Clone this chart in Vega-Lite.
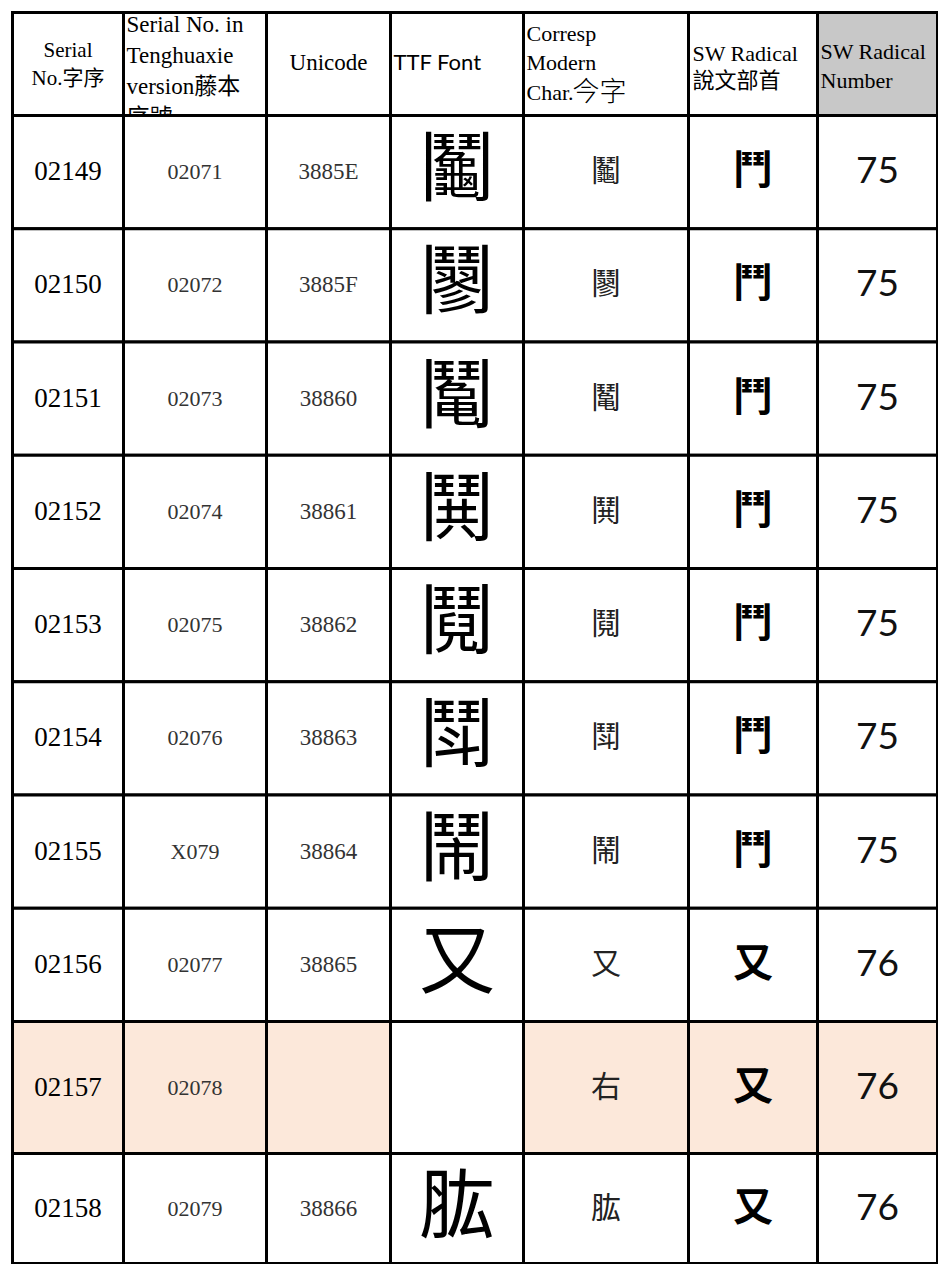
{
"$schema": "https://vega.github.io/schema/vega-lite/v6.json",
"background": "#ffffff",
"padding": {"left": 10.5, "top": 10.5, "right": 0, "bottom": 0},
"config": {"view": {"stroke": null}},
"datasets": {
 "rows": [
  {"serial":"02149","teng":"02071","unicode":"3885E","modern":"鬮","radical":"鬥","number":"75"},
  {"serial":"02150","teng":"02072","unicode":"3885F","modern":"\u4c18","radical":"鬥","number":"75"},
  {"serial":"02151","teng":"02073","unicode":"38860","modern":"\u4c17","radical":"鬥","number":"75"},
  {"serial":"02152","teng":"02074","unicode":"38861","modern":"\u9b28","radical":"鬥","number":"75"},
  {"serial":"02153","teng":"02075","unicode":"38862","modern":"鬩","radical":"鬥","number":"75"},
  {"serial":"02154","teng":"02076","unicode":"38863","modern":"\u9b26","radical":"鬥","number":"75"},
  {"serial":"02155","teng":"X079","unicode":"38864","modern":"鬧","radical":"鬥","number":"75"},
  {"serial":"02156","teng":"02077","unicode":"38865","modern":"又","radical":"又","number":"76"},
  {"serial":"02157","teng":"02078","unicode":"","modern":"右","radical":"又","number":"76"},
  {"serial":"02158","teng":"02079","unicode":"38866","modern":"肱","radical":"又","number":"76"}
 ],
 "header": [
  {"col":"serial","label":"Serial\nNo.字序"},
  {"col":"teng","label":"Serial No. in\nTenghuaxie\nversion藤本\n序號"},
  {"col":"unicode","label":"Unicode"},
  {"col":"ttf","label":"TTF Font"},
  {"col":"modern","label":"Corresp\nModern\nChar.","label2":"今字"},
  {"col":"radical","label":"SW Radical\n說文部首"},
  {"col":"number","label":"SW Radical\nNumber"}
 ]
},
"columns": 7,
"spacing": 0,
"bounds": "flush",
"concat": [
  {"width":111,"height":103,"data":{"name":"header"},"transform":[{"filter":"datum.col == 'serial'"}],"layer":[
   {"mark":{"type":"rect","fill":"#ffffff","stroke":"#000000","strokeWidth":3},"encoding":{"x":{"field":"col","type":"nominal","axis":null,"scale":{"type":"band","paddingInner":0,"paddingOuter":0}}}},
   {"mark":{"type":"text","font":"Liberation Serif, Noto Sans CJK TC","fontSize":21,"lineBreak":"\n","lineHeight":28,"dy":-13.5,"align":"center","baseline":"middle","color":"#000000"},"encoding":{"text":{"field":"label","type":"nominal"}}}
  ]},
  {"width":143,"height":103,"data":{"name":"header"},"transform":[{"filter":"datum.col == 'teng'"}],"layer":[
   {"mark":{"type":"rect","fill":"#ffffff","stroke":"#000000","strokeWidth":3},"encoding":{"x":{"field":"col","type":"nominal","axis":null,"scale":{"type":"band","paddingInner":0,"paddingOuter":0}}}},
   {"mark":{"type":"text","clip":true,"font":"Liberation Serif, Noto Sans CJK TC","fontSize":23,"lineBreak":"\n","lineHeight":31,"dx":3,"dy":-39.5,"align":"left","baseline":"middle","color":"#000000"},"encoding":{"x":{"field":"col","type":"nominal","axis":null,"bandPosition":0,"scale":{"type":"band","paddingInner":0,"paddingOuter":0}},"text":{"field":"label","type":"nominal"}}}
  ]},
  {"width":124,"height":103,"data":{"name":"header"},"transform":[{"filter":"datum.col == 'unicode'"}],"layer":[
   {"mark":{"type":"rect","fill":"#ffffff","stroke":"#000000","strokeWidth":3},"encoding":{"x":{"field":"col","type":"nominal","axis":null,"scale":{"type":"band","paddingInner":0,"paddingOuter":0}}}},
   {"mark":{"type":"text","font":"Liberation Serif","fontSize":23,"dy":-1.5,"align":"center","baseline":"middle","color":"#000000"},"encoding":{"text":{"field":"label","type":"nominal"}}}
  ]},
  {"width":133,"height":103,"data":{"name":"header"},"transform":[{"filter":"datum.col == 'ttf'"}],"layer":[
   {"mark":{"type":"rect","fill":"#ffffff","stroke":"#000000","strokeWidth":3},"encoding":{"x":{"field":"col","type":"nominal","axis":null,"scale":{"type":"band","paddingInner":0,"paddingOuter":0}}}},
   {"mark":{"type":"text","font":"Lato","fontSize":22,"dx":3,"dy":-1.5,"align":"left","baseline":"middle","color":"#000000"},"encoding":{"x":{"field":"col","type":"nominal","axis":null,"bandPosition":0,"scale":{"type":"band","paddingInner":0,"paddingOuter":0}},"text":{"field":"label","type":"nominal"}}}
  ]},
  {"width":165,"height":103,"data":{"name":"header"},"transform":[{"filter":"datum.col == 'modern'"}],"layer":[
   {"mark":{"type":"rect","fill":"#ffffff","stroke":"#000000","strokeWidth":3},"encoding":{"x":{"field":"col","type":"nominal","axis":null,"scale":{"type":"band","paddingInner":0,"paddingOuter":0}}}},
   {"mark":{"type":"text","font":"Liberation Serif","fontSize":22,"lineBreak":"\n","lineHeight":29.5,"dx":3,"dy":-30.5,"align":"left","baseline":"middle","color":"#000000"},"encoding":{"x":{"field":"col","type":"nominal","axis":null,"bandPosition":0,"scale":{"type":"band","paddingInner":0,"paddingOuter":0}},"text":{"field":"label","type":"nominal"}}},
   {"mark":{"type":"text","font":"Noto Sans CJK TC","fontWeight":300,"fontSize":27,"dx":49,"dy":28.5,"align":"left","baseline":"middle","color":"#000000"},"encoding":{"x":{"field":"col","type":"nominal","axis":null,"bandPosition":0,"scale":{"type":"band","paddingInner":0,"paddingOuter":0}},"text":{"field":"label2","type":"nominal"}}}
  ]},
  {"width":129,"height":103,"data":{"name":"header"},"transform":[{"filter":"datum.col == 'radical'"}],"layer":[
   {"mark":{"type":"rect","fill":"#ffffff","stroke":"#000000","strokeWidth":3},"encoding":{"x":{"field":"col","type":"nominal","axis":null,"scale":{"type":"band","paddingInner":0,"paddingOuter":0}}}},
   {"mark":{"type":"text","font":"Liberation Serif, Noto Sans CJK TC","fontSize":22,"lineBreak":"\n","lineHeight":27,"dx":4,"dy":-10.5,"align":"left","baseline":"middle","color":"#000000"},"encoding":{"x":{"field":"col","type":"nominal","axis":null,"bandPosition":0,"scale":{"type":"band","paddingInner":0,"paddingOuter":0}},"text":{"field":"label","type":"nominal"}}}
  ]},
  {"width":120,"height":103,"data":{"name":"header"},"transform":[{"filter":"datum.col == 'number'"}],"layer":[
   {"mark":{"type":"rect","fill":"#c8c8c8","stroke":"#000000","strokeWidth":3},"encoding":{"x":{"field":"col","type":"nominal","axis":null,"scale":{"type":"band","paddingInner":0,"paddingOuter":0}}}},
   {"mark":{"type":"text","font":"Liberation Serif","fontSize":22,"lineBreak":"\n","lineHeight":29,"dx":3,"dy":-12.5,"align":"left","baseline":"middle","color":"#000000"},"encoding":{"x":{"field":"col","type":"nominal","axis":null,"bandPosition":0,"scale":{"type":"band","paddingInner":0,"paddingOuter":0}},"text":{"field":"label","type":"nominal"}}}
  ]},

  {"width":111,"height":906,"data":{"name":"rows"},"transform":[{"filter":"datum.serial < '02157'"}],"layer":[
   {"mark":{"type":"rect","fill":"#ffffff","stroke":"#000000","strokeWidth":3},"encoding":{"y":{"field":"serial","type":"nominal","axis":null,"sort":null,"scale":{"type":"band","paddingInner":0,"paddingOuter":0}}}},
   {"mark":{"type":"text","font":"Liberation Serif","fontSize":27,"color":"#000000"},"encoding":{"y":{"field":"serial","type":"nominal","axis":null,"sort":null,"scale":{"type":"band","paddingInner":0,"paddingOuter":0}},"text":{"field":"serial","type":"nominal"}}}
  ]},
  {"width":143,"height":906,"data":{"name":"rows"},"transform":[{"filter":"datum.serial < '02157'"}],"layer":[
   {"mark":{"type":"rect","fill":"#ffffff","stroke":"#000000","strokeWidth":3},"encoding":{"y":{"field":"serial","type":"nominal","axis":null,"sort":null,"scale":{"type":"band","paddingInner":0,"paddingOuter":0}}}},
   {"mark":{"type":"text","font":"Liberation Serif","fontSize":22,"color":"#333333"},"encoding":{"y":{"field":"serial","type":"nominal","axis":null,"sort":null,"scale":{"type":"band","paddingInner":0,"paddingOuter":0}},"text":{"field":"teng","type":"nominal"}}}
  ]},
  {"width":124,"height":906,"data":{"name":"rows"},"transform":[{"filter":"datum.serial < '02157'"}],"layer":[
   {"mark":{"type":"rect","fill":"#ffffff","stroke":"#000000","strokeWidth":3},"encoding":{"y":{"field":"serial","type":"nominal","axis":null,"sort":null,"scale":{"type":"band","paddingInner":0,"paddingOuter":0}}}},
   {"mark":{"type":"text","font":"Liberation Serif","fontSize":23,"color":"#333333"},"encoding":{"y":{"field":"serial","type":"nominal","axis":null,"sort":null,"scale":{"type":"band","paddingInner":0,"paddingOuter":0}},"text":{"field":"unicode","type":"nominal"}}}
  ]},
  {"width":133,"height":906,"data":{"name":"rows"},"transform":[{"filter":"datum.serial < '02157'"}],"layer":[
   {"mark":{"type":"rect","fill":"#ffffff","stroke":"#000000","strokeWidth":3},"encoding":{"y":{"field":"serial","type":"nominal","axis":null,"sort":null,"scale":{"type":"band","paddingInner":0,"paddingOuter":0}}}},
   {"transform":[{"filter":"datum.unicode != ''"}],"mark":{"type":"text","font":"Noto Sans CJK TC","fontSize":76,"color":"#000000"},"encoding":{"y":{"field":"serial","type":"nominal","axis":null,"sort":null,"scale":{"type":"band","paddingInner":0,"paddingOuter":0}},"text":{"field":"modern","type":"nominal"}}}
  ]},
  {"width":165,"height":906,"data":{"name":"rows"},"transform":[{"filter":"datum.serial < '02157'"}],"layer":[
   {"mark":{"type":"rect","fill":"#ffffff","stroke":"#000000","strokeWidth":3},"encoding":{"y":{"field":"serial","type":"nominal","axis":null,"sort":null,"scale":{"type":"band","paddingInner":0,"paddingOuter":0}}}},
   {"mark":{"type":"text","font":"Noto Sans CJK TC","fontSize":30,"color":"#222222"},"encoding":{"y":{"field":"serial","type":"nominal","axis":null,"sort":null,"scale":{"type":"band","paddingInner":0,"paddingOuter":0}},"text":{"field":"modern","type":"nominal"}}}
  ]},
  {"width":129,"height":906,"data":{"name":"rows"},"transform":[{"filter":"datum.serial < '02157'"}],"layer":[
   {"mark":{"type":"rect","fill":"#ffffff","stroke":"#000000","strokeWidth":3},"encoding":{"y":{"field":"serial","type":"nominal","axis":null,"sort":null,"scale":{"type":"band","paddingInner":0,"paddingOuter":0}}}},
   {"mark":{"type":"text","font":"Noto Sans CJK TC","fontSize":40,"fontWeight":"bold","color":"#000000"},"encoding":{"y":{"field":"serial","type":"nominal","axis":null,"sort":null,"scale":{"type":"band","paddingInner":0,"paddingOuter":0}},"text":{"field":"radical","type":"nominal"}}}
  ]},
  {"width":120,"height":906,"data":{"name":"rows"},"transform":[{"filter":"datum.serial < '02157'"}],"layer":[
   {"mark":{"type":"rect","fill":"#ffffff","stroke":"#000000","strokeWidth":3},"encoding":{"y":{"field":"serial","type":"nominal","axis":null,"sort":null,"scale":{"type":"band","paddingInner":0,"paddingOuter":0}}}},
   {"mark":{"type":"text","font":"Lato","fontSize":37,"color":"#111111"},"encoding":{"y":{"field":"serial","type":"nominal","axis":null,"sort":null,"scale":{"type":"band","paddingInner":0,"paddingOuter":0}},"text":{"field":"number","type":"nominal"}}}
  ]},

  {"width":111,"height":132,"data":{"name":"rows"},"transform":[{"filter":"datum.serial == '02157'"}],"layer":[
   {"mark":{"type":"rect","fill":"#fce8da","stroke":"#000000","strokeWidth":3},"encoding":{"y":{"field":"serial","type":"nominal","axis":null,"sort":null,"scale":{"type":"band","paddingInner":0,"paddingOuter":0}}}},
   {"mark":{"type":"text","font":"Liberation Serif","fontSize":27,"color":"#000000"},"encoding":{"y":{"field":"serial","type":"nominal","axis":null,"sort":null,"scale":{"type":"band","paddingInner":0,"paddingOuter":0}},"text":{"field":"serial","type":"nominal"}}}
  ]},
  {"width":143,"height":132,"data":{"name":"rows"},"transform":[{"filter":"datum.serial == '02157'"}],"layer":[
   {"mark":{"type":"rect","fill":"#fce8da","stroke":"#000000","strokeWidth":3},"encoding":{"y":{"field":"serial","type":"nominal","axis":null,"sort":null,"scale":{"type":"band","paddingInner":0,"paddingOuter":0}}}},
   {"mark":{"type":"text","font":"Liberation Serif","fontSize":22,"color":"#333333"},"encoding":{"y":{"field":"serial","type":"nominal","axis":null,"sort":null,"scale":{"type":"band","paddingInner":0,"paddingOuter":0}},"text":{"field":"teng","type":"nominal"}}}
  ]},
  {"width":124,"height":132,"data":{"name":"rows"},"transform":[{"filter":"datum.serial == '02157'"}],"layer":[
   {"mark":{"type":"rect","fill":"#fce8da","stroke":"#000000","strokeWidth":3},"encoding":{"y":{"field":"serial","type":"nominal","axis":null,"sort":null,"scale":{"type":"band","paddingInner":0,"paddingOuter":0}}}},
   {"mark":{"type":"text","font":"Liberation Serif","fontSize":23,"color":"#333333"},"encoding":{"y":{"field":"serial","type":"nominal","axis":null,"sort":null,"scale":{"type":"band","paddingInner":0,"paddingOuter":0}},"text":{"field":"unicode","type":"nominal"}}}
  ]},
  {"width":133,"height":132,"data":{"name":"rows"},"transform":[{"filter":"datum.serial == '02157'"}],"layer":[
   {"mark":{"type":"rect","fill":"#ffffff","stroke":"#000000","strokeWidth":3},"encoding":{"y":{"field":"serial","type":"nominal","axis":null,"sort":null,"scale":{"type":"band","paddingInner":0,"paddingOuter":0}}}},
   {"transform":[{"filter":"datum.unicode != ''"}],"mark":{"type":"text","font":"Noto Sans CJK TC","fontSize":76,"color":"#000000"},"encoding":{"y":{"field":"serial","type":"nominal","axis":null,"sort":null,"scale":{"type":"band","paddingInner":0,"paddingOuter":0}},"text":{"field":"modern","type":"nominal"}}}
  ]},
  {"width":165,"height":132,"data":{"name":"rows"},"transform":[{"filter":"datum.serial == '02157'"}],"layer":[
   {"mark":{"type":"rect","fill":"#fce8da","stroke":"#000000","strokeWidth":3},"encoding":{"y":{"field":"serial","type":"nominal","axis":null,"sort":null,"scale":{"type":"band","paddingInner":0,"paddingOuter":0}}}},
   {"mark":{"type":"text","font":"Noto Sans CJK TC","fontSize":30,"color":"#222222"},"encoding":{"y":{"field":"serial","type":"nominal","axis":null,"sort":null,"scale":{"type":"band","paddingInner":0,"paddingOuter":0}},"text":{"field":"modern","type":"nominal"}}}
  ]},
  {"width":129,"height":132,"data":{"name":"rows"},"transform":[{"filter":"datum.serial == '02157'"}],"layer":[
   {"mark":{"type":"rect","fill":"#fce8da","stroke":"#000000","strokeWidth":3},"encoding":{"y":{"field":"serial","type":"nominal","axis":null,"sort":null,"scale":{"type":"band","paddingInner":0,"paddingOuter":0}}}},
   {"mark":{"type":"text","font":"Noto Sans CJK TC","fontSize":40,"fontWeight":"bold","color":"#000000"},"encoding":{"y":{"field":"serial","type":"nominal","axis":null,"sort":null,"scale":{"type":"band","paddingInner":0,"paddingOuter":0}},"text":{"field":"radical","type":"nominal"}}}
  ]},
  {"width":120,"height":132,"data":{"name":"rows"},"transform":[{"filter":"datum.serial == '02157'"}],"layer":[
   {"mark":{"type":"rect","fill":"#fce8da","stroke":"#000000","strokeWidth":3},"encoding":{"y":{"field":"serial","type":"nominal","axis":null,"sort":null,"scale":{"type":"band","paddingInner":0,"paddingOuter":0}}}},
   {"mark":{"type":"text","font":"Lato","fontSize":37,"color":"#111111"},"encoding":{"y":{"field":"serial","type":"nominal","axis":null,"sort":null,"scale":{"type":"band","paddingInner":0,"paddingOuter":0}},"text":{"field":"number","type":"nominal"}}}
  ]},

  {"width":111,"height":110,"data":{"name":"rows"},"transform":[{"filter":"datum.serial == '02158'"}],"layer":[
   {"mark":{"type":"rect","fill":"#ffffff","stroke":"#000000","strokeWidth":3},"encoding":{"y":{"field":"serial","type":"nominal","axis":null,"sort":null,"scale":{"type":"band","paddingInner":0,"paddingOuter":0}}}},
   {"mark":{"type":"text","font":"Liberation Serif","fontSize":27,"color":"#000000"},"encoding":{"y":{"field":"serial","type":"nominal","axis":null,"sort":null,"scale":{"type":"band","paddingInner":0,"paddingOuter":0}},"text":{"field":"serial","type":"nominal"}}}
  ]},
  {"width":143,"height":110,"data":{"name":"rows"},"transform":[{"filter":"datum.serial == '02158'"}],"layer":[
   {"mark":{"type":"rect","fill":"#ffffff","stroke":"#000000","strokeWidth":3},"encoding":{"y":{"field":"serial","type":"nominal","axis":null,"sort":null,"scale":{"type":"band","paddingInner":0,"paddingOuter":0}}}},
   {"mark":{"type":"text","font":"Liberation Serif","fontSize":22,"color":"#333333"},"encoding":{"y":{"field":"serial","type":"nominal","axis":null,"sort":null,"scale":{"type":"band","paddingInner":0,"paddingOuter":0}},"text":{"field":"teng","type":"nominal"}}}
  ]},
  {"width":124,"height":110,"data":{"name":"rows"},"transform":[{"filter":"datum.serial == '02158'"}],"layer":[
   {"mark":{"type":"rect","fill":"#ffffff","stroke":"#000000","strokeWidth":3},"encoding":{"y":{"field":"serial","type":"nominal","axis":null,"sort":null,"scale":{"type":"band","paddingInner":0,"paddingOuter":0}}}},
   {"mark":{"type":"text","font":"Liberation Serif","fontSize":23,"color":"#333333"},"encoding":{"y":{"field":"serial","type":"nominal","axis":null,"sort":null,"scale":{"type":"band","paddingInner":0,"paddingOuter":0}},"text":{"field":"unicode","type":"nominal"}}}
  ]},
  {"width":133,"height":110,"data":{"name":"rows"},"transform":[{"filter":"datum.serial == '02158'"}],"layer":[
   {"mark":{"type":"rect","fill":"#ffffff","stroke":"#000000","strokeWidth":3},"encoding":{"y":{"field":"serial","type":"nominal","axis":null,"sort":null,"scale":{"type":"band","paddingInner":0,"paddingOuter":0}}}},
   {"transform":[{"filter":"datum.unicode != ''"}],"mark":{"type":"text","font":"Noto Sans CJK TC","fontSize":76,"color":"#000000"},"encoding":{"y":{"field":"serial","type":"nominal","axis":null,"sort":null,"scale":{"type":"band","paddingInner":0,"paddingOuter":0}},"text":{"field":"modern","type":"nominal"}}}
  ]},
  {"width":165,"height":110,"data":{"name":"rows"},"transform":[{"filter":"datum.serial == '02158'"}],"layer":[
   {"mark":{"type":"rect","fill":"#ffffff","stroke":"#000000","strokeWidth":3},"encoding":{"y":{"field":"serial","type":"nominal","axis":null,"sort":null,"scale":{"type":"band","paddingInner":0,"paddingOuter":0}}}},
   {"mark":{"type":"text","font":"Noto Sans CJK TC","fontSize":30,"color":"#222222"},"encoding":{"y":{"field":"serial","type":"nominal","axis":null,"sort":null,"scale":{"type":"band","paddingInner":0,"paddingOuter":0}},"text":{"field":"modern","type":"nominal"}}}
  ]},
  {"width":129,"height":110,"data":{"name":"rows"},"transform":[{"filter":"datum.serial == '02158'"}],"layer":[
   {"mark":{"type":"rect","fill":"#ffffff","stroke":"#000000","strokeWidth":3},"encoding":{"y":{"field":"serial","type":"nominal","axis":null,"sort":null,"scale":{"type":"band","paddingInner":0,"paddingOuter":0}}}},
   {"mark":{"type":"text","font":"Noto Sans CJK TC","fontSize":40,"fontWeight":"bold","color":"#000000"},"encoding":{"y":{"field":"serial","type":"nominal","axis":null,"sort":null,"scale":{"type":"band","paddingInner":0,"paddingOuter":0}},"text":{"field":"radical","type":"nominal"}}}
  ]},
  {"width":120,"height":110,"data":{"name":"rows"},"transform":[{"filter":"datum.serial == '02158'"}],"layer":[
   {"mark":{"type":"rect","fill":"#ffffff","stroke":"#000000","strokeWidth":3},"encoding":{"y":{"field":"serial","type":"nominal","axis":null,"sort":null,"scale":{"type":"band","paddingInner":0,"paddingOuter":0}}}},
   {"mark":{"type":"text","font":"Lato","fontSize":37,"color":"#111111"},"encoding":{"y":{"field":"serial","type":"nominal","axis":null,"sort":null,"scale":{"type":"band","paddingInner":0,"paddingOuter":0}},"text":{"field":"number","type":"nominal"}}}
  ]}
]
}
